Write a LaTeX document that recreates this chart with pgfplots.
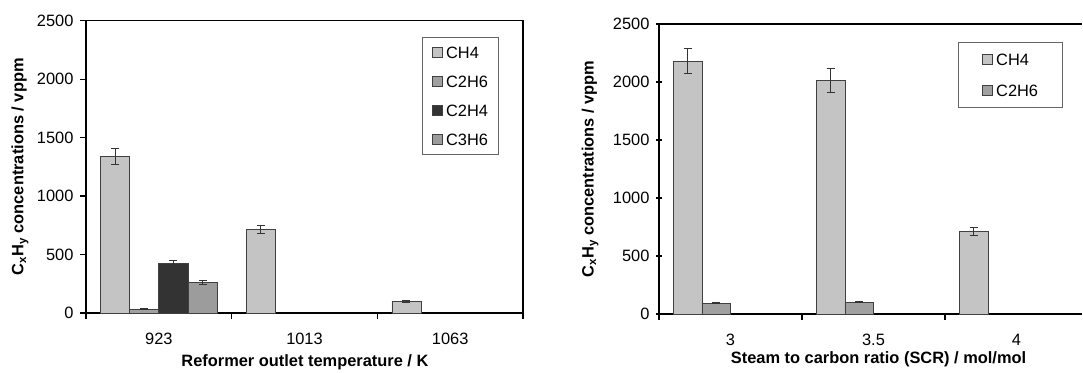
\documentclass[border=0pt]{standalone}
\usepackage{fontspec}
\setmainfont{Liberation Sans}
\usepackage{pgfplots}
\pgfplotsset{compat=1.18}
\definecolor{cch4}{HTML}{C4C4C4}
\definecolor{cc2h6}{HTML}{A0A0A0}
\definecolor{cc2h4}{HTML}{333333}
\definecolor{cc3h6}{HTML}{9C9C9C}
\definecolor{edge}{HTML}{404040}
\newcommand{\myfont}{\fontsize{16.4}{19}\selectfont}
\pgfplotsset{
  mylegend/.style={legend image code/.code={\draw[##1, line width=0.7pt] (3pt,-5pt) rectangle (13pt,5pt);}},
  mybar/.style={
    scale only axis, ybar, bar width=0.2,
    ymin=0, ymax=2500, ytick={0,500,1000,1500,2000,2500},
    xmin=-0.5,
    tick align=outside, major tick length=6pt, minor tick length=6pt,
    xtick={0,1,2}, minor xtick={-0.5,0.5,1.5,2.5},
    major x tick style={draw=none},
    minor x tick style={black, line width=1.2pt},
    ytick style={black, line width=1.2pt},
    tick pos=left,
    axis line style={black, line width=1.2pt},
    font=\myfont,
    tick label style={font=\myfont},
    /pgf/number format/assume math mode=true,
    /pgf/number format/1000 sep={},
    yticklabel style={xshift=-3pt},
    xticklabel style={yshift=-11pt},
    legend cell align=left,
    error bars/error bar style={line width=0.7pt, black!80},
    error bars/error mark options={rotate=90, line width=0.7pt, black!80, mark size=4pt},
  },
  bars/.style={draw=edge, line width=0.7pt, mylegend},
}
\begin{document}
\begin{tikzpicture}
\useasboundingbox (0,0) rectangle (1083pt,372pt);
% left panel
\begin{axis}[mybar,
  at={(86pt,59pt)}, anchor=south west,
  width=437pt, height=292.3pt,
  xmax=2.5,
  xticklabels={923,1013,1063},
  xlabel={\myfont\bfseries Reformer outlet temperature / K},
  xlabel style={at={(axis description cs:0.501,-0.168)}, anchor=center},
  ylabel={\myfont\bfseries C\textsubscript{x}H\textsubscript{y} concentrations / vppm},
  ylabel style={at={(axis description cs:-0.151,0.5)}, anchor=center},
  legend style={at={(axis description cs:0.769,0.944)}, anchor=north west,
    draw=black!60, line width=0.8pt, fill=white, font=\myfont,
    inner xsep=10pt, inner ysep=9.2pt, row sep=17.4pt, column sep=3pt,
    nodes={inner sep=0pt, text height=11.6pt, text depth=0pt}},
]
\addplot[bars, fill=cch4, bar shift=-0.3, error bars/.cd, y dir=both, y explicit]
  coordinates {(0,1340) +- (0,70) (1,715) +- (0,38) (2,100) +- (0,5)};
\addplot[bars, fill=cc2h6, bar shift=-0.1, error bars/.cd, y dir=both, y explicit]
  coordinates {(0,34) +- (0,3)};
\addplot[bars, fill=cc2h4, bar shift=0.1, error bars/.cd, y dir=both, y explicit]
  coordinates {(0,425) +- (0,25)};
\addplot[bars, fill=cc3h6, bar shift=0.3, error bars/.cd, y dir=both, y explicit]
  coordinates {(0,265) +- (0,16)};
\legend{CH4,C2H6,C2H4,C3H6}
\end{axis}
% right panel
\begin{axis}[mybar,
  at={(659pt,58pt)}, anchor=south west,
  width=423pt, height=290pt,
  xmax=2.458,
  separate axis lines,
  axis x line=box, axis y line=left,
  x axis line style={-}, y axis line style={-},
  xtick pos=left, ytick pos=left,
  xticklabels={3,3.5,4},
  xlabel={\myfont\bfseries Steam to carbon ratio (SCR) / mol/mol},
  xlabel style={at={(axis description cs:0.519,-0.155)}, anchor=center},
  ylabel={\myfont\bfseries C\textsubscript{x}H\textsubscript{y} concentrations / vppm},
  ylabel style={at={(axis description cs:-0.163,0.5)}, anchor=center},
  legend style={at={(axis description cs:0.707,0.938)}, anchor=north west,
    draw=black!60, line width=0.8pt, fill=white, font=\myfont,
    inner xsep=24pt, inner ysep=11.2pt, row sep=19.4pt, column sep=3pt,
    nodes={inner sep=0pt, text height=11.6pt, text depth=0pt}},
]
\addplot[bars, fill=cch4, bar shift=-0.3, error bars/.cd, y dir=both, y explicit]
  coordinates {(0,2180) +- (0,108) (1,2015) +- (0,102) (2,713) +- (0,36)};
\addplot[bars, fill=cc2h6, bar shift=-0.1, error bars/.cd, y dir=both, y explicit]
  coordinates {(0,93) +- (0,4) (1,101) +- (0,4)};
\legend{CH4,C2H6}
\end{axis}
\end{tikzpicture}
\end{document}
